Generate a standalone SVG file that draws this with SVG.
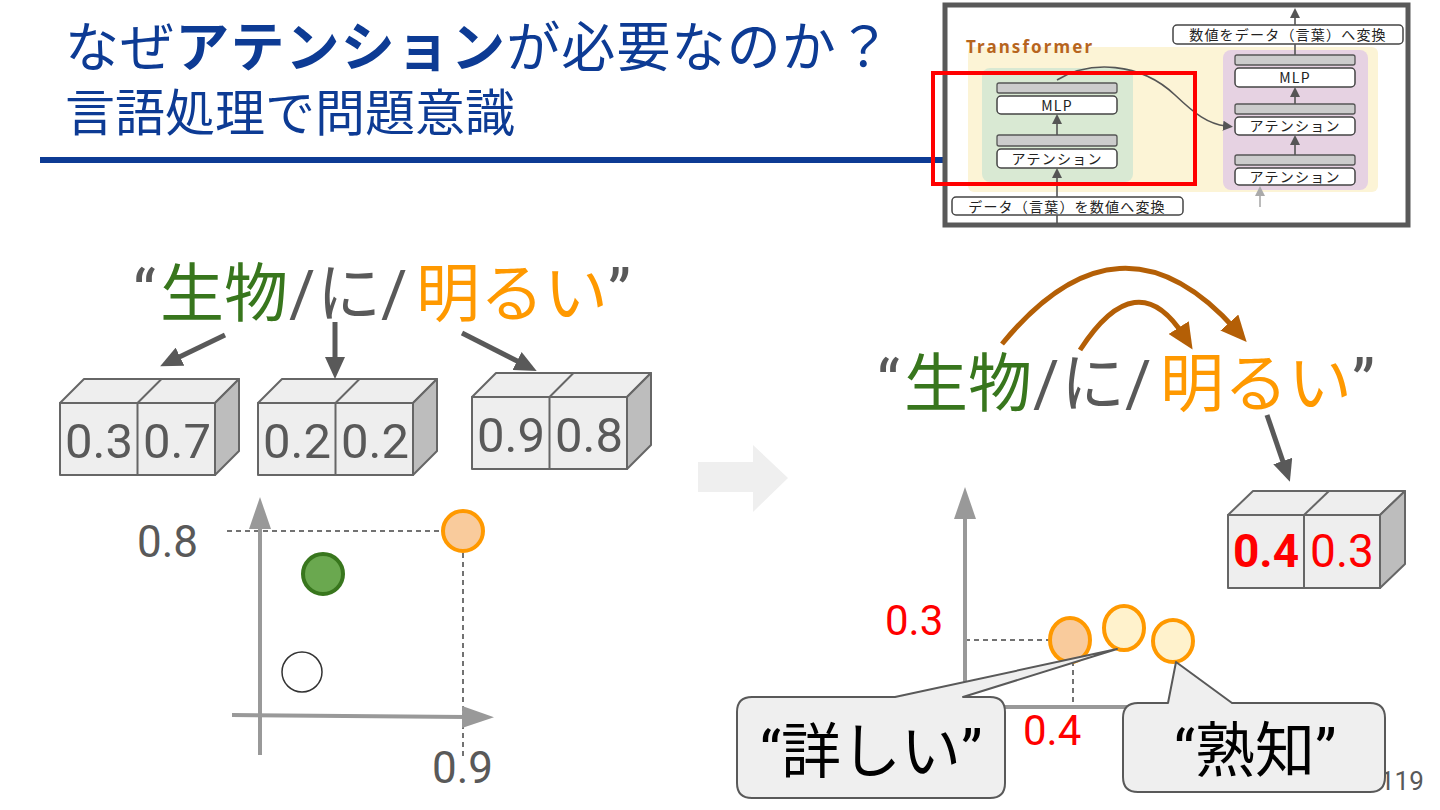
<svg xmlns="http://www.w3.org/2000/svg" width="1440" height="810" viewBox="0 0 1440 810">
<style>
.jp{font-family:"Noto Sans CJK JP","Noto Sans",sans-serif}
.mix{font-family:Roboto,"Noto Sans CJK JP",sans-serif}
.num{font-family:Roboto,"Liberation Sans",sans-serif;fill:#595959}
.title{fill:#0d3b94}
.cubeF{fill:#eeeeee;stroke:#666;stroke-width:2;stroke-linejoin:round}
.cubeS{fill:#bdbdbd;stroke:#666;stroke-width:2;stroke-linejoin:round}
.dk{stroke:#595959;stroke-width:5;fill:none}
.br{stroke:#b45f06;stroke-width:5;fill:none}
.ax{stroke:#999;stroke-width:4;fill:none}
.dash{stroke:#444;stroke-width:1.5;stroke-dasharray:5 4;fill:none}
.bar{fill:#cccccc;stroke:#555;stroke-width:1.3}
.blk{fill:#fff;stroke:#444;stroke-width:1.5}
.small{font-family:"Noto Sans CJK JP","Noto Sans",sans-serif;font-size:14px;fill:#222;text-anchor:middle;letter-spacing:1.2px}
.thin{stroke:#555;stroke-width:1.6;fill:none}
.call{fill:#efefef;stroke:#595959;stroke-width:2;stroke-linejoin:round}
.red{fill:#ff0000}
</style>
<defs>
<marker id="ahDk" viewBox="0 0 22 20" markerWidth="22" markerHeight="20" refX="10" refY="10" orient="auto" markerUnits="userSpaceOnUse"><path d="M0,0 L22,10 L0,20 Z" fill="#595959"/></marker>
<marker id="ahBr" viewBox="0 0 26 24" markerWidth="26" markerHeight="24" refX="10" refY="12" orient="auto" markerUnits="userSpaceOnUse"><path d="M0,0 L26,12 L0,24 Z" fill="#b45f06"/></marker>
<marker id="ahAx" viewBox="0 0 32 22" markerWidth="32" markerHeight="22" refX="4" refY="11" orient="auto" markerUnits="userSpaceOnUse"><path d="M0,0 L32,11 L0,22 Z" fill="#999"/></marker>
<marker id="ahSm" viewBox="0 0 10 10" markerWidth="10" markerHeight="10" refX="3" refY="5" orient="auto" markerUnits="userSpaceOnUse"><path d="M0,0 L10,5 L0,10 Z" fill="#555"/></marker>
<marker id="ahSmL" viewBox="0 0 10 10" markerWidth="10" markerHeight="10" refX="3" refY="5" orient="auto" markerUnits="userSpaceOnUse"><path d="M0,0 L10,5 L0,10 Z" fill="#aaa"/></marker>
<g id="cube">
<polygon class="cubeF" points="0,0 24,-24 179,-24 155,0"/>
<line x1="77.5" y1="0" x2="101.5" y2="-24" stroke="#666" stroke-width="2"/>
<polygon class="cubeS" points="155,0 179,-24 179,48 155,72"/>
<rect class="cubeF" x="0" y="0" width="155" height="72"/>
<line x1="77.5" y1="0" x2="77.5" y2="72" stroke="#666" stroke-width="2"/>
</g>
</defs>
<rect width="1440" height="810" fill="#fff"/>

<!-- title -->
<g id="title">
<text class="jp title" x="65" y="67" font-size="54" textLength="826">なぜ<tspan font-weight="bold">アテンション</tspan>が必要なのか？</text>
<text class="jp title" x="65" y="131" font-size="50">言語処理で問題意識</text>
<line x1="40" y1="160" x2="945" y2="160" stroke="#0d3b94" stroke-width="6"/>
</g>

<!-- transformer thumbnail -->
<g id="thumbnail">
<rect x="945" y="5" width="463" height="220" fill="#fff" stroke="#595959" stroke-width="5"/>
<rect x="968" y="47" width="410" height="145" rx="6" fill="#fcf4d6"/>
<text x="966" y="53" font-family="'Noto Sans','DejaVu Sans',sans-serif" font-weight="bold" font-size="17" fill="#b7651e" textLength="126">Transformer</text>
<rect x="982" y="68" width="151" height="114" rx="8" fill="#d9e9d3"/>
<rect x="1223" y="50" width="145" height="140" rx="8" fill="#e6d2e2"/>
<g id="thumb-left">
<rect class="bar" x="997" y="83" width="120" height="10" rx="2"/>
<rect class="blk" x="997" y="96" width="120" height="18" rx="4"/>
<text class="small" x="1057" y="110.5">MLP</text>
<rect class="bar" x="997" y="135" width="120" height="11" rx="2"/>
<rect class="blk" x="997" y="149" width="120" height="19" rx="4"/>
<text class="small" x="1057" y="164">アテンション</text>
<rect class="blk" x="952" y="197" width="231" height="18" rx="4"/>
<text class="small" x="1067" y="211.5">データ（言葉）を数値へ変換</text>
</g>
<g id="thumb-right">
<rect class="bar" x="1235" y="55" width="120" height="10" rx="2"/>
<rect class="blk" x="1235" y="68" width="120" height="19" rx="4"/>
<text class="small" x="1295" y="82.5">MLP</text>
<rect class="bar" x="1235" y="104" width="120" height="10" rx="2"/>
<rect class="blk" x="1235" y="117" width="120" height="18" rx="4"/>
<text class="small" x="1295" y="131">アテンション</text>
<rect class="bar" x="1235" y="155" width="120" height="10" rx="2"/>
<rect class="blk" x="1235" y="168" width="120" height="17" rx="4"/>
<text class="small" x="1295" y="181.5">アテンション</text>
<rect class="blk" x="1173" y="25" width="230" height="19" rx="4"/>
<text class="small" x="1288" y="39.5">数値をデータ（言葉）へ変換</text>
</g>
<g id="thumb-connectors">
<line class="thin" x1="1057" y1="135" x2="1057" y2="121" marker-end="url(#ahSm)"/>
<line class="thin" x1="1057" y1="197" x2="1057" y2="175" marker-end="url(#ahSm)"/>
<line class="thin" x1="1057" y1="215" x2="1057" y2="224"/>
<line class="thin" x1="1295" y1="104" x2="1295" y2="94" marker-end="url(#ahSm)"/>
<line class="thin" x1="1295" y1="155" x2="1295" y2="142" marker-end="url(#ahSm)"/>
<line x1="1260" y1="207" x2="1260" y2="193" stroke="#aaa" stroke-width="1.6" marker-end="url(#ahSmL)"/>
<line class="thin" x1="1295" y1="55" x2="1295" y2="44"/>
<line class="thin" x1="1295" y1="25" x2="1295" y2="15" marker-end="url(#ahSm)"/>
<path class="thin" d="M1057,80 C1090,60 1140,62 1175,95 C1195,114 1208,124 1226,126" marker-end="url(#ahSm)"/>
</g>
<rect x="933" y="73" width="262" height="111" fill="none" stroke="#ff0000" stroke-width="4"/>
</g>

<!-- left sentence -->
<g id="sentence-left" class="mix" font-size="64">
<text x="133" y="316" fill="#595959">“</text>
<text x="160" y="316" fill="#38761d">生物</text>
<text x="289" y="316" fill="#595959">/</text>
<text x="317" y="316" fill="#595959">に</text>
<text x="381" y="316" fill="#595959">/</text>
<text x="416" y="316" fill="#ff9900">明るい</text>
<text x="608" y="316" fill="#595959">”</text>
</g>

<!-- cubes left -->
<g id="cube-1"><use href="#cube" x="60" y="403"/>
<text class="num" x="99" y="458" font-size="49" text-anchor="middle">0.3</text>
<text class="num" x="177" y="458" font-size="49" text-anchor="middle">0.7</text></g>
<g id="cube-2"><use href="#cube" x="258" y="403"/>
<text class="num" x="297" y="458" font-size="49" text-anchor="middle">0.2</text>
<text class="num" x="375" y="458" font-size="49" text-anchor="middle">0.2</text></g>
<g id="cube-3"><use href="#cube" x="472" y="397"/>
<text class="num" x="511" y="452" font-size="49" text-anchor="middle">0.9</text>
<text class="num" x="589" y="452" font-size="49" text-anchor="middle">0.8</text></g>

<!-- left chart -->
<g id="chart-left">
<line class="dash" x1="227" y1="531" x2="442" y2="531"/>
<line class="dash" x1="463" y1="553" x2="463" y2="756"/>
<line class="ax" x1="260" y1="755" x2="260" y2="525" marker-end="url(#ahAx)"/>
<line class="ax" x1="232" y1="715" x2="466" y2="717" marker-end="url(#ahAx)"/>
<circle id="dot-orange" cx="463" cy="531" r="20" fill="#f9cb9c" stroke="#ff9900" stroke-width="4"/>
<circle id="dot-green" cx="323" cy="574" r="20" fill="#6aa84f" stroke="#38761d" stroke-width="4"/>
<circle id="dot-white" cx="302" cy="672" r="20" fill="#fff" stroke="#333" stroke-width="1.5"/>
<text class="num" x="137" y="557" font-size="44">0.8</text>
<text class="num" x="432" y="783" font-size="44">0.9</text>
</g>

<!-- transition arrow -->
<polygon id="big-arrow" points="698,462 753,462 753,445 788,478 753,512 753,492 698,492" fill="#efefef"/>

<!-- right sentence -->
<g id="sentence-right" class="mix" font-size="64">
<text x="877" y="406" fill="#595959">“</text>
<text x="904" y="406" fill="#38761d">生物</text>
<text x="1033" y="406" fill="#595959">/</text>
<text x="1061" y="406" fill="#595959">に</text>
<text x="1125" y="406" fill="#595959">/</text>
<text x="1160" y="406" fill="#ff9900">明るい</text>
<text x="1352" y="406" fill="#595959">”</text>
</g>

<!-- right cube -->
<g id="cube-4">
<polygon class="cubeF" points="1228,515 1253,491 1405,491 1380,515"/>
<line x1="1304" y1="515" x2="1329" y2="491" stroke="#666" stroke-width="2"/>
<polygon class="cubeS" points="1380,515 1405,491 1405,564 1380,588"/>
<rect class="cubeF" x="1228" y="515" width="152" height="73"/>
<line x1="1304" y1="515" x2="1304" y2="588" stroke="#666" stroke-width="2"/>
<text class="red" x="1266" y="567" font-family="Roboto,'Liberation Sans',sans-serif" font-size="46" font-weight="bold" text-anchor="middle">0.4</text>
<text class="red" x="1342" y="567" font-family="Roboto,'Liberation Sans',sans-serif" font-size="46" text-anchor="middle">0.3</text>
</g>

<!-- right chart -->
<g id="chart-right">
<line class="dash" x1="965" y1="640" x2="1050" y2="640"/>
<line class="dash" x1="1073" y1="661" x2="1073" y2="707"/>
<line class="ax" x1="965" y1="707" x2="965" y2="515" marker-end="url(#ahAx)"/>
<line class="ax" x1="963" y1="707" x2="1135" y2="707"/>
<ellipse id="dot-r1" cx="1070" cy="640" rx="20" ry="22" fill="#f9cb9c" stroke="#ff9900" stroke-width="4"/>
<ellipse id="dot-r2" cx="1124" cy="628" rx="20" ry="22" fill="#fff2cc" stroke="#ff9900" stroke-width="4"/>
<ellipse id="dot-r3" cx="1173" cy="641" rx="20" ry="21" fill="#fff2cc" stroke="#ff9900" stroke-width="4"/>
<text class="red" x="885" y="635" font-family="Roboto,'Liberation Sans',sans-serif" font-size="42">0.3</text>
<text class="red" x="1023" y="745" font-family="Roboto,'Liberation Sans',sans-serif" font-size="42">0.4</text>
</g>

<text id="page" class="num" x="1380" y="790" font-size="26">119</text>

<!-- callouts -->
<g id="callout-kuwashii">
<path class="call" d="M752,697 L895,697 L1117,649 L963,697 L990,697 Q1005,697 1005,712 L1005,783 Q1005,798 990,798 L752,798 Q737,798 737,783 L737,712 Q737,697 752,697 Z"/>
<text class="mix" x="871" y="773" font-size="60" fill="#000" text-anchor="middle">“詳しい”</text>
</g>
<g id="callout-jukuchi">
<path class="call" d="M1138,703 L1168,703 L1176,662 L1232,703 L1370,703 Q1385,703 1385,718 L1385,777 Q1385,792 1370,792 L1138,792 Q1123,792 1123,777 L1123,718 Q1123,703 1138,703 Z"/>
<text class="mix" x="1255" y="772" font-size="60" fill="#000" text-anchor="middle">“熟知”</text>
</g>

<!-- connectors -->
<g id="connectors">
<line class="dk" x1="225" y1="335" x2="171" y2="361" marker-end="url(#ahDk)"/>
<line class="dk" x1="335" y1="322" x2="335" y2="367" marker-end="url(#ahDk)"/>
<line class="dk" x1="462" y1="333" x2="526" y2="365.5" marker-end="url(#ahDk)"/>
<line class="dk" x1="1267" y1="415" x2="1286" y2="470.5" marker-end="url(#ahDk)"/>
<path class="br" d="M1002,344 Q1120,200 1236,330" marker-end="url(#ahBr)"/>
<path class="br" d="M1080,350 Q1137,262 1184,336" marker-end="url(#ahBr)"/>
</g>
</svg>
